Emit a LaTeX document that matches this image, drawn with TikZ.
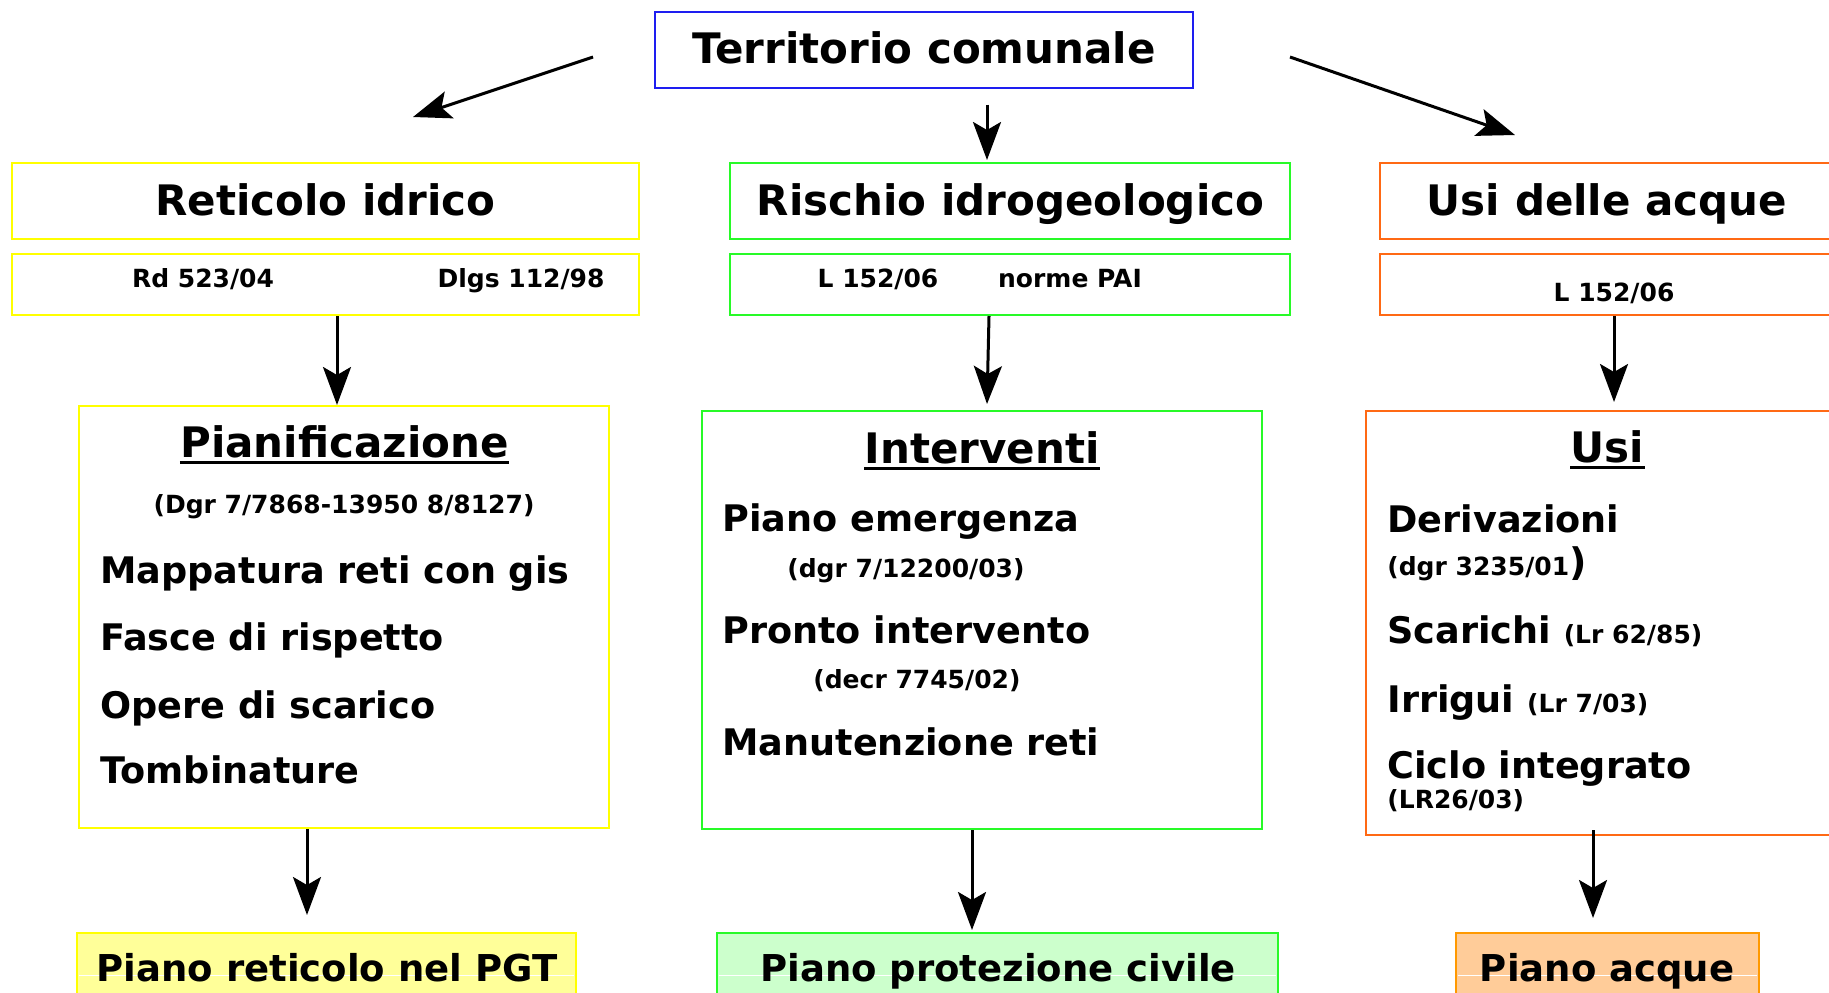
\documentclass[tikz,border=0pt]{standalone}
\usepackage{fontspec}
\setmainfont{DejaVu Sans}
\usepackage{tikz}
\usetikzlibrary{arrows.meta}

\definecolor{terrblue}{RGB}{30,30,240}
\definecolor{retyellow}{RGB}{255,255,0}
\definecolor{risgreen}{RGB}{40,250,40}
\definecolor{usiorange}{RGB}{255,105,20}
\definecolor{pgtfill}{RGB}{255,255,153}
\definecolor{protfill}{RGB}{204,255,204}
\definecolor{acquefill}{RGB}{255,204,153}
\definecolor{acqueorange}{RGB}{255,153,0}

\begin{document}
\begin{tikzpicture}[x=0.5pt, y=-0.5pt,
  box/.style={draw=#1, line width=1pt, inner sep=0pt},
  big/.style={inner sep=0pt, anchor=base, font=\bfseries\fontsize{21}{25}\selectfont},
  item/.style={inner sep=0pt, anchor=base west, font=\bfseries\fontsize{18.3}{22}\selectfont},
  law/.style={inner sep=0pt, anchor=base, font=\bfseries\fontsize{12.5}{15}\selectfont},
  note/.style={law, anchor=base west},
  plan/.style={inner sep=0pt, anchor=base, font=\bfseries\fontsize{18.5}{22}\selectfont},
  arr/.style={line width=1.5pt, -{Stealth[length=19pt, width=14pt, inset=4pt]}}]
  \useasboundingbox (0,0) rectangle (1829,992);
  \clip (0,0) rectangle (1829,992);

  \node[box=terrblue, minimum width=269pt, minimum height=38pt] (terr) at (923.5,49.5) {};
  \node[big] (terr-t) at (924,63) {Territorio comunale};

  \node[box=retyellow, minimum width=313.5pt, minimum height=38pt] (ret) at (325.5,201) {};
  \node[box=risgreen, minimum width=280pt, minimum height=38pt] (ris) at (1010,201) {};
  \node[box=usiorange, minimum width=230pt, minimum height=38pt] (usi) at (1610,201) {};
  \node[big] (ret-t) at (325.5,215) {Reticolo idrico};
  \node[big] (ris-t) at (1010.5,215) {Rischio idrogeologico};
  \node[big] (usi-t) at (1607,215) {Usi delle acque};

  \node[box=retyellow, minimum width=313.5pt, minimum height=30.5pt] (retlaw) at (325.5,284.5) {};
  \node[box=risgreen, minimum width=280pt, minimum height=30.5pt] (rislaw) at (1010,284.5) {};
  \node[box=usiorange, minimum width=230pt, minimum height=30.5pt] (usilaw) at (1610,284.5) {};
  \node[law] (rd) at (203,287) {Rd 523/04};
  \node[law] (dlgs) at (521,287) {Dlgs 112/98};
  \node[law] (l152) at (878,287) {L 152/06};
  \node[law] (pai) at (1070,287) {norme PAI};
  \node[law] (l152b) at (1614,301) {L 152/06};

  \node[box=retyellow, minimum width=265pt, minimum height=211pt] (pian) at (344,617) {};
  \node[big] (pian-h) at (344.5,457) {Pianificazione};
  \node[law] (dgr1) at (344,513) {(Dgr 7/7868-13950 8/8127)};
  \node[item] (mapp) at (100,583) {Mappatura reti con gis};
  \node[item] (fasce) at (100,650) {Fasce di rispetto};
  \node[item] (opere) at (100,718) {Opere di scarico};
  \node[item] (tomb) at (100,783) {Tombinature};

  \node[box=risgreen, minimum width=280pt, minimum height=209pt] (interv) at (982,620) {};
  \node[big] (interv-h) at (982,463) {Interventi};
  \node[item] (emerg) at (722,531) {Piano emergenza};
  \node[note] (dgr2) at (787,577) {(dgr 7/12200/03)};
  \node[item] (pronto) at (722,643) {Pronto intervento};
  \node[note] (decr) at (813,688) {(decr 7745/02)};
  \node[item] (manut) at (722,755) {Manutenzione reti};

  \node[box=usiorange, minimum width=237pt, minimum height=212pt] (usibox) at (1603,623) {};
  \node[big] (usi-h) at (1607.5,462) {Usi};
  \node[item] (deriv) at (1387,532) {Derivazioni};
  \node[note] (dgr3) at (1387,575) {(dgr 3235/01{\fontsize{19}{22}\selectfont)}};
  \node[item] (scar) at (1387,643) {Scarichi {\fontsize{12.5}{15}\selectfont (Lr 62/85)}};
  \node[item] (irr) at (1387,712) {Irrigui {\fontsize{12.5}{15}\selectfont (Lr 7/03)}};
  \node[item] (ciclo) at (1387,778) {Ciclo integrato};
  \node[note] (lr26) at (1387,808) {(LR26/03)};

  \foreach \h in {pian-h, interv-h, usi-h}
    \draw[line width=1.8pt] ([yshift=-2.8pt]\h.base west) -- ([yshift=-2.8pt]\h.base east);

  \node[box=retyellow, fill=pgtfill, minimum width=249.5pt, minimum height=42pt] (pgt) at (326.5,975) {};
  \node[box=risgreen, fill=protfill, minimum width=280.5pt, minimum height=42pt] (prot) at (997.5,975) {};
  \node[box=acqueorange, fill=acquefill, minimum width=151.5pt, minimum height=42pt] (acque) at (1607.5,975) {};
  \draw[white, line width=0.4pt] (79,975) -- (574,975) (719,975) -- (1276,975) (1458,975) -- (1757,975);
  \node[plan] (pgt-t) at (327,981) {Piano reticolo nel PGT};
  \node[plan] (prot-t) at (998,981) {Piano protezione civile};
  \node[plan] (acque-t) at (1607,981) {Piano acque};

  \coordinate (tl0) at (593,57);
  \coordinate (tl1) at (413,117);
  \coordinate (tr0) at (1290,57);
  \coordinate (tr1) at (1515,135);
  \draw[arr] (tl0) -- (tl1);
  \draw[arr] (tr0) -- (tr1);
  \draw[arr] ([xshift=31.75pt,yshift=-8pt]terr.south) -- ([xshift=-11.5pt,yshift=1pt]ris.north);

  \draw[arr] ([xshift=5.75pt]retlaw.south) -- ([xshift=-3.5pt]pian.north);
  \draw[arr] ([xshift=-10.5pt]rislaw.south) -- ([xshift=2.5pt,yshift=3pt]interv.north);
  \draw[arr] ([xshift=2pt]usilaw.south) -- ([xshift=5.5pt,yshift=4pt]usibox.north);

  \draw[arr, shorten >=8.5pt] ([xshift=-18.5pt]pian.south) -- ([xshift=-9.75pt]pgt.north);
  \draw[arr, shorten >=1pt] ([xshift=-5pt]interv.south) -- ([xshift=-12.75pt]prot.north);
  \draw[arr, shorten >=7pt] ([xshift=-5pt,yshift=3pt]usibox.south) -- ([xshift=-7.25pt]acque.north);
\end{tikzpicture}
\end{document}
